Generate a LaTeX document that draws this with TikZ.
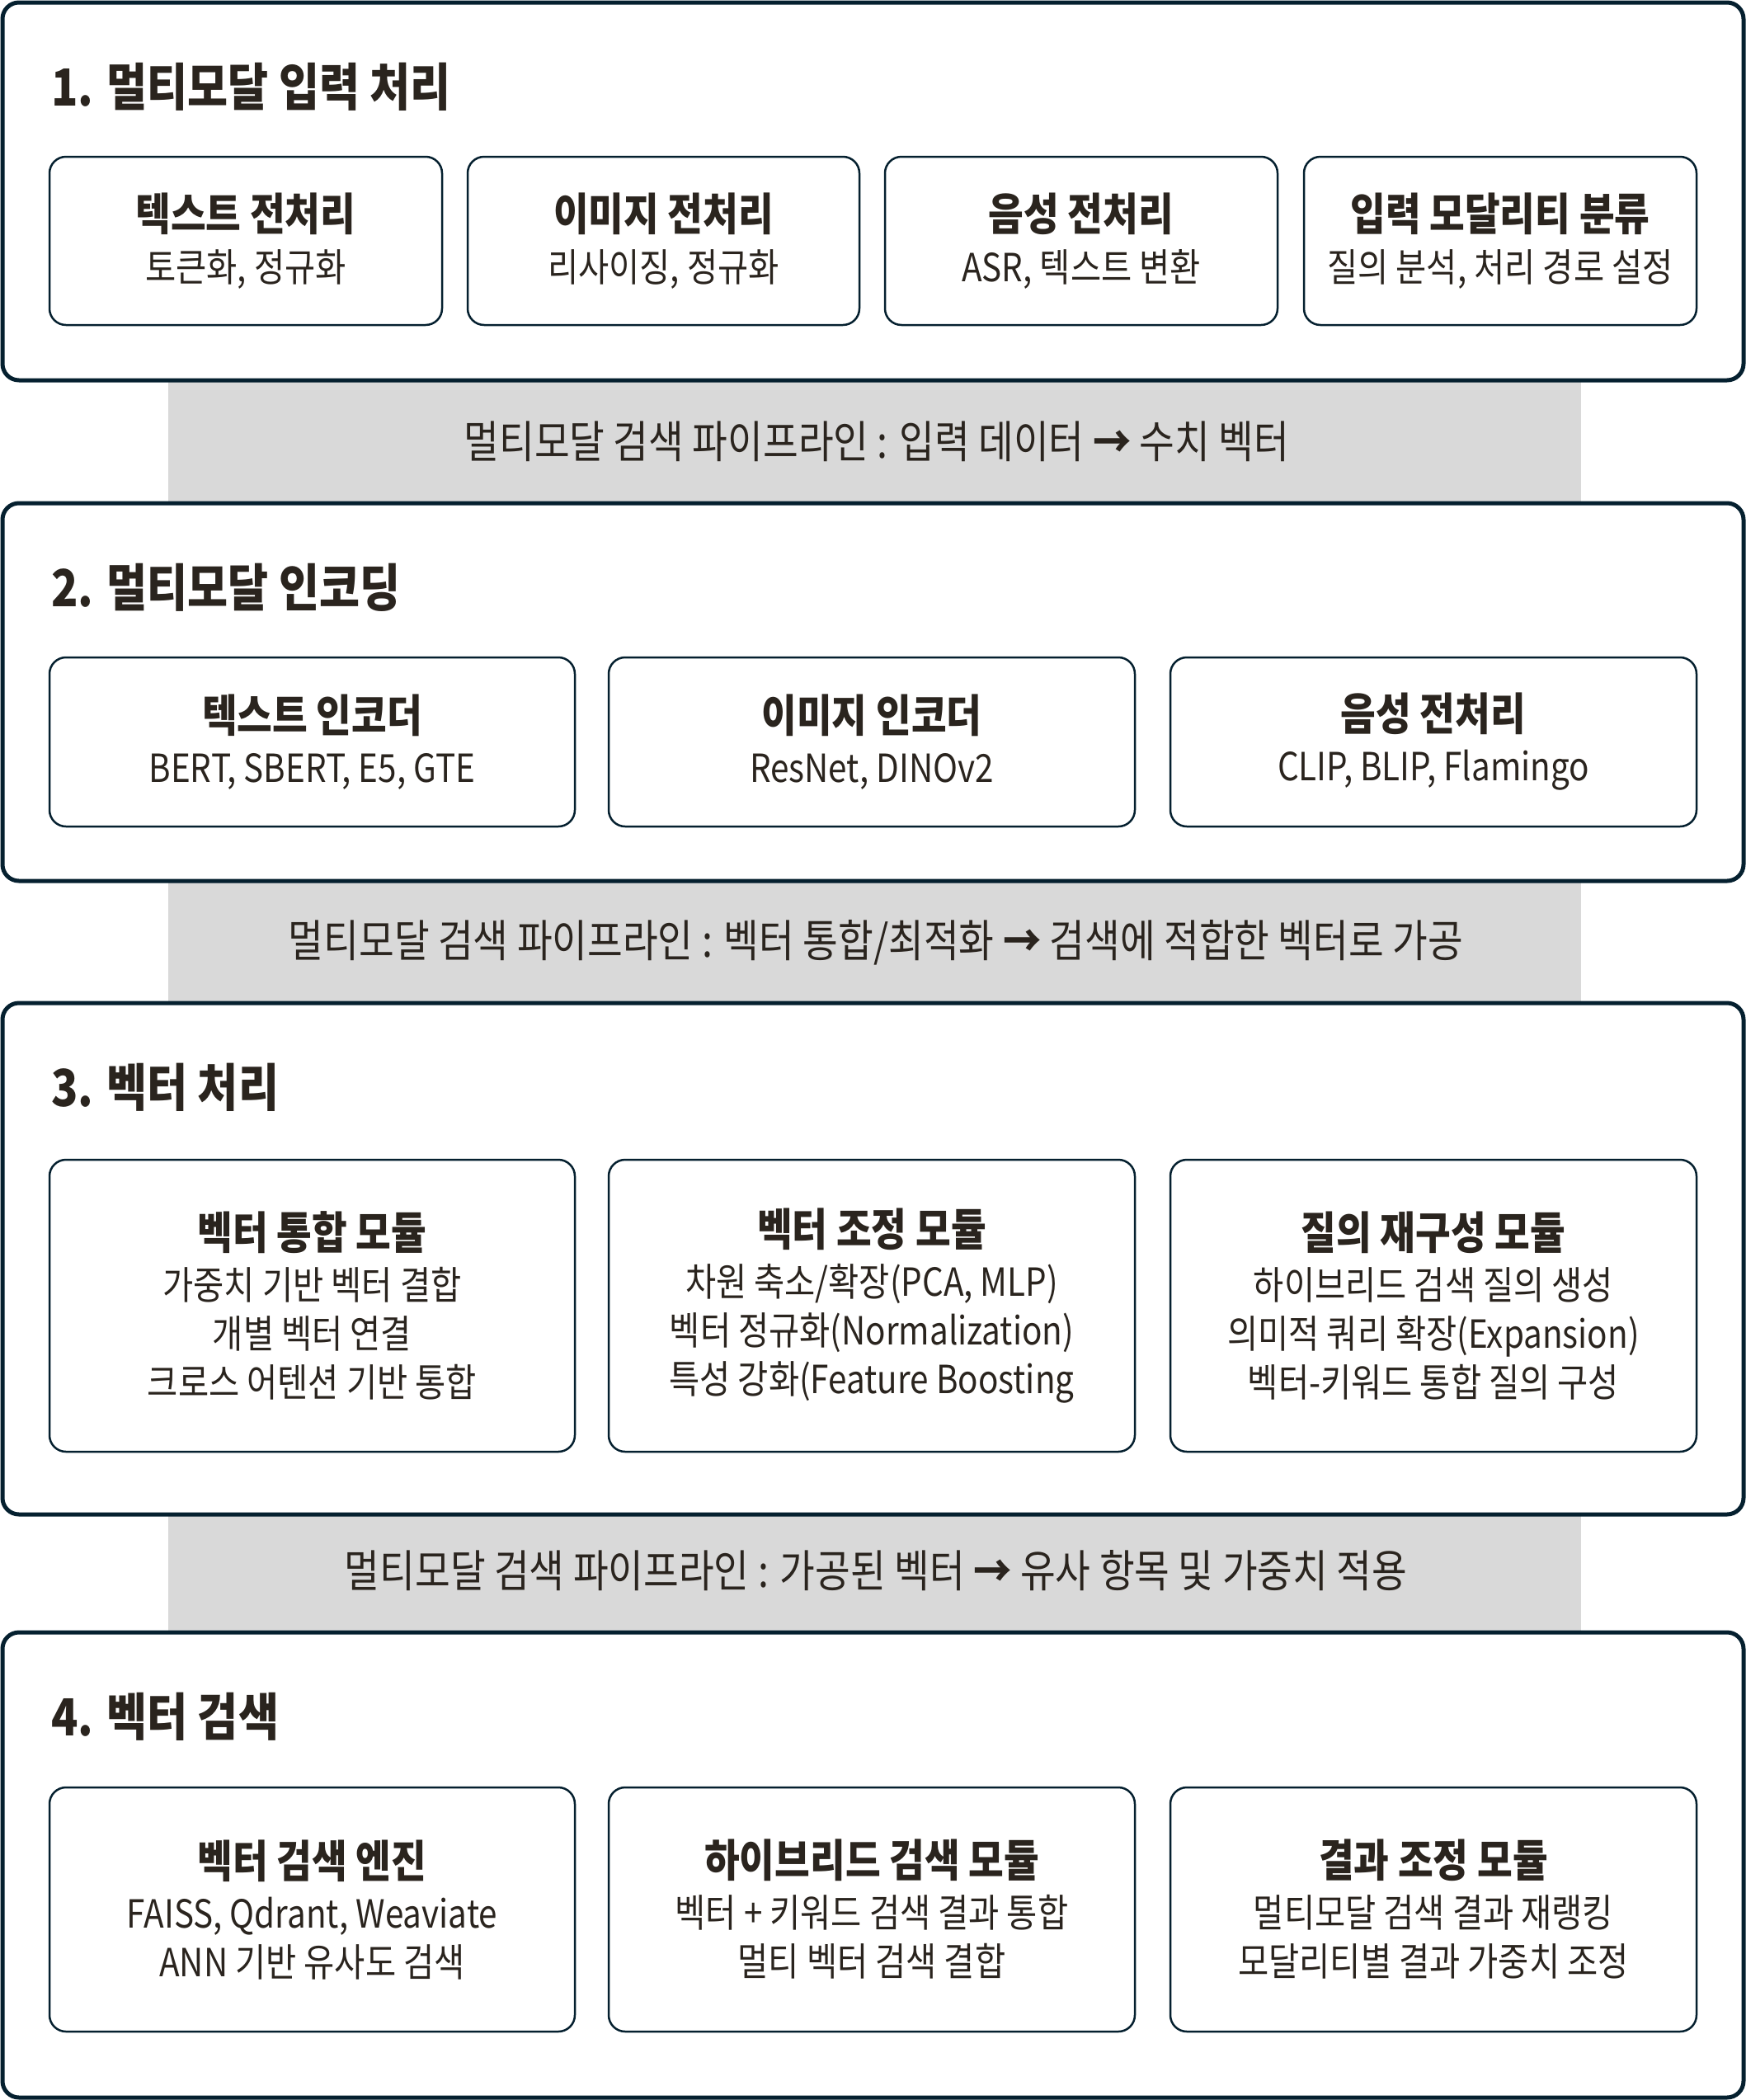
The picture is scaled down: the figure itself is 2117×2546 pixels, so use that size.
\documentclass[tikz,border=0pt]{standalone}
\usepackage{fontspec}
\setmainfont{Noto Sans CJK KR}[FakeStretch=0.86]
\definecolor{navy}{HTML}{05202F}
\definecolor{ink}{HTML}{2A241E}
\definecolor{bandgray}{HTML}{D9D9D9}
\tikzset{
  outerbox/.style={draw=navy, line width=5pt, rounded corners=20pt, fill=white, inner sep=0pt},
  card/.style={draw=navy, line width=2.5pt, rounded corners=20pt, fill=white, align=center, text=ink, inner sep=0pt,
    font=\fontsize{47}{59}\selectfont},
  bandbox/.style={fill=bandgray, draw=none, inner sep=0pt},
  bandtext/.style={text=ink, font=\fontsize{54}{60}\selectfont, inner sep=0pt},
  sectitle/.style={anchor=west, text=ink, font=\bfseries\fontsize{62}{70}\selectfont, inner sep=0pt},
}
\newcommand{\ctitle}[1]{{\bfseries\fontsize{54}{59}\selectfont #1}}
\begin{document}
\begin{tikzpicture}[x=1pt,y=-1pt]
\useasboundingbox (0,0) rectangle (2117,2546);
% bands
\node[bandbox, minimum width=1713, minimum height=149] (band1) at (1060.5,535.5) {};
\node[bandbox, minimum width=1713, minimum height=148] (band2) at (1060.5,1142) {};
\node[bandbox, minimum width=1713, minimum height=143] (band3) at (1060.5,1907.5) {};
% outer boxes
\node[outerbox, minimum width=2111, minimum height=458] (sec1) at (1058.5,232) {};
\node[outerbox, minimum width=2111, minimum height=458] (sec2) at (1058.5,839) {};
\node[outerbox, minimum width=2111, minimum height=620] (sec3) at (1058.5,1526) {};
\node[outerbox, minimum width=2111, minimum height=564] (sec4) at (1058.5,2261) {};
% band texts
\node[bandtext] (bt1) at (1063,535) {멀티모달 검색 파이프라인 : 입력 데이터 {\bfseries →} 수치 벡터};
\node[bandtext] (bt2) at (1062,1143) {멀티모달 검색 파이프라인 : 벡터 통합/최적화 {\bfseries →} 검색에 적합한 벡터로 가공};
\node[bandtext] (bt3) at (1062,1904) {멀티모달 검색 파이프라인 : 가공된 벡터 {\bfseries →} 유사 항목 및 가중치 적용};
% titles
\node[sectitle] (t1) at (62,105) {1. 멀티모달 입력 처리};
\node[sectitle] (t2) at (62,712) {2. 멀티모달 인코딩};
\node[sectitle] (t3) at (62,1318) {3. 벡터 처리};
\node[sectitle] (t4) at (62,2081) {4. 벡터 검색};
% row 1
\node[card, minimum width=476, minimum height=204] (c11) at (298,292) {\ctitle{텍스트 전처리}\\[3pt]토큰화, 정규화};
\node[card, minimum width=475, minimum height=204] (c12) at (804.5,292) {\ctitle{이미지 전처리}\\[3pt]리사이징, 정규화};
\node[card, minimum width=476, minimum height=204] (c13) at (1311,292) {\ctitle{음성 전처리}\\[3pt]ASR, 텍스트 변환};
\node[card, minimum width=476, minimum height=204] (c14) at (1819,292) {\ctitle{입력 모달리티 분류}\\[3pt]질의 분석, 처리 경로 설정};
% row 2
\node[card, minimum width=637, minimum height=205] (c21) at (378.5,899.5) {\ctitle{텍스트 인코더}\\[2pt]BERT, SBERT, E5, GTE};
\node[card, minimum width=638, minimum height=205] (c22) at (1057,899.5) {\ctitle{이미지 인코더}\\[2pt]ResNet, DINOv2};
\node[card, minimum width=638, minimum height=205] (c23) at (1738,899.5) {\ctitle{음성 전처리}\\[2pt]CLIP, BLIP, Flamingo};
% row 3
\node[card, minimum width=637, minimum height=354] (c31) at (378.5,1583) {\ctitle{벡터 통합 모듈}\\[2pt]가중치 기반 벡터 결합\\개별 벡터 연결\\크로스 어텐션 기반 통합};
\node[card, minimum width=638, minimum height=354] (c32) at (1057,1583) {\ctitle{벡터 조정 모듈}\\[2pt]차원 축소/확장(PCA, MLP)\\벡터 정규화(Normalization)\\특성 강화(Feature Boosting};
\node[card, minimum width=638, minimum height=354] (c33) at (1738,1583) {\ctitle{질의 재구성 모듈}\\[2pt]하이브리드 검색 질의 생성\\의미적 쿼리 확장(Expansion)\\벡터-키워드 통합 질의 구성};
% row 4
\node[card, minimum width=637, minimum height=296] (c41) at (378.5,2315) {\ctitle{벡터 검색 엔진}\\[2pt]FAISS, Qdrant, Weaviate\\ANN 기반 유사도 검색};
\node[card, minimum width=638, minimum height=296] (c42) at (1057,2315) {\ctitle{하이브리드 검색 모듈}\\[2pt]벡터 + 키워드 검색 결과 통합\\멀티 벡터 검색 결합};
\node[card, minimum width=638, minimum height=296] (c43) at (1738,2315) {\ctitle{결과 조정 모듈}\\[2pt]멀티모달 검색 결과 재랭킹\\모달리티별 결과 가중치 조정};
\end{tikzpicture}
\end{document}
